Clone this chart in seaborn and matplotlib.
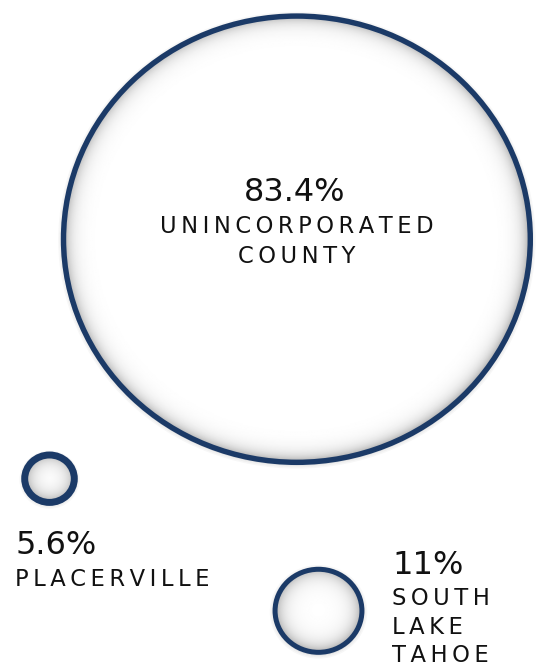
import numpy as np
import matplotlib
matplotlib.use("Agg")
import matplotlib.pyplot as plt
from matplotlib.patches import Ellipse
import seaborn as sns

# Share of county population by jurisdiction
regions = ["UNINCORPORATED\nCOUNTY", "PLACERVILLE", "SOUTH\nLAKE\nTAHOE"]
shares = [83.4, 5.6, 11.0]
share_labels = ["83.4%", "5.6%", "11%"]

sns.set_theme(style="white")
plt.rcParams["font.family"] = ["DejaVu Sans"]

W, H, DPI = 546, 667, 100
fig = plt.figure(figsize=(W / DPI, H / DPI), dpi=DPI)
ax = fig.add_axes([0, 0, 1, 1])
ax.set_xlim(0, W)
ax.set_ylim(H, 0)
ax.axis("off")

NAVY = "#1b3a67"
SQUASH = 0.956            # vertical to horizontal ratio of the bubbles
MAX_R = 233.4             # radius (px) of the largest bubble
EXPONENT = 0.83


def bubble_radius(v):
    return MAX_R * (v / max(shares)) ** EXPONENT


# layout: bubble centres, stroke widths and shading widths
centres = [(296.9, 239.2), (49.5, 478.7), (318.5, 610.8)]
strokes = [3.9, 5.0, 3.6]
shade_w = [7.0, 8.0, 8.0]


def spaced(s):
    # widen the tracking of the caption letters with thin spaces
    return "\n".join("\u2009".join(line) for line in s.split("\n"))


for (cx, cy), v, lw, sw in zip(centres, shares, strokes, shade_w):
    rx = bubble_radius(v)
    ry = rx * SQUASH
    ell = Ellipse((cx, cy), 2 * rx, 2 * ry, facecolor="none",
                  edgecolor=NAVY, linewidth=lw, zorder=3)
    # faint soft shadow outside the ring
    for k, a in zip([1.5, 3.0, 4.5], [0.10, 0.06, 0.03]):
        ax.add_patch(Ellipse((cx, cy + 1), 2 * (rx + k), 2 * (ry + k),
                             facecolor="none", edgecolor="black",
                             linewidth=1.2, alpha=a, zorder=1))
    # inner shading that fades from the rim to white
    xs = np.linspace(cx - rx, cx + rx, 400)
    ys = np.linspace(cy - ry, cy + ry, 400)
    X, Y = np.meshgrid(xs, ys)
    rho = np.sqrt(((X - cx) / rx) ** 2 + ((Y - cy) / ry) ** 2)
    d = np.clip((1 - rho) * rx, 0, None)
    shade = 1 - 0.34 * np.exp(-d / sw)
    clip = Ellipse((cx, cy), 2 * rx, 2 * ry, transform=ax.transData)
    im = ax.imshow(shade, cmap="gray", vmin=0, vmax=1,
                   extent=(cx - rx, cx + rx, cy + ry, cy - ry),
                   interpolation="bilinear", zorder=2)
    im.set_clip_path(clip)
    ax.add_patch(ell)

TXT = "#111111"
CAP = 16.3
PCT = 23
# Unincorporated county: labels inside the bubble
ax.text(centres[0][0] - 2, 192.5, share_labels[0], ha="center", va="center",
        fontsize=PCT, color=TXT)
ax.text(centres[0][0], 241.5, spaced(regions[0]), ha="center", va="center",
        fontsize=CAP, color=TXT, linespacing=1.4)

# Placerville: labels below the bubble
ax.text(15, 545.5, share_labels[1], ha="left", va="center",
        fontsize=PCT, color=TXT)
ax.text(15, 579.5, spaced(regions[1]), ha="left", va="center",
        fontsize=CAP, color=TXT)

# South Lake Tahoe: labels to the right of the bubble
ax.text(392, 566, share_labels[2], ha="left", va="center",
        fontsize=PCT, color=TXT)
ax.text(392, 627, spaced(regions[2]), ha="left", va="center",
        fontsize=CAP, color=TXT, linespacing=1.33)

fig.savefig("out.png", dpi=DPI, facecolor="white")
